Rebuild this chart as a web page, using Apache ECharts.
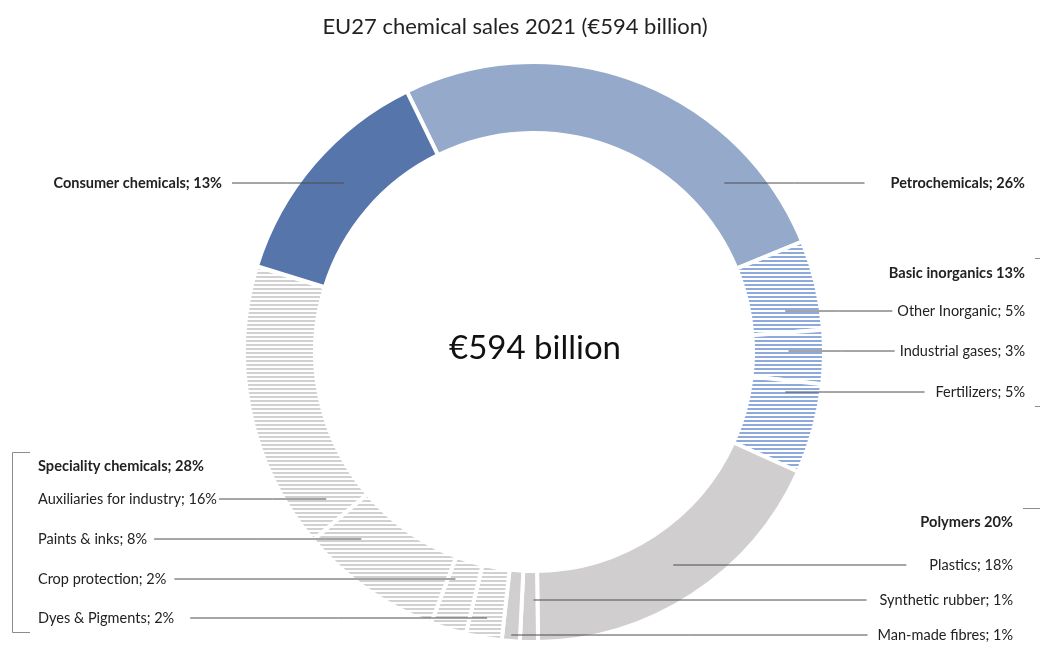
<!DOCTYPE html>
<html>
<head>
<meta charset="utf-8">
<script src="https://cdn.jsdelivr.net/npm/echarts@6/dist/echarts.min.js"></script>
<style>
  html, body { margin: 0; padding: 0; background: #ffffff; }
  #chart { width: 1040px; height: 650px; }
</style>
</head>
<body>
<div id="chart"></div>
<script>
// EU27 chemical sales 2021, share of total by segment (%), clockwise from 11 o'clock
const categories = [
  'Petrochemicals', 'Other Inorganic', 'Industrial gases', 'Fertilizers',
  'Plastics', 'Synthetic rubber', 'Man-made fibres',
  'Dyes & Pigments', 'Crop protection', 'Paints & inks', 'Auxiliaries for industry',
  'Consumer chemicals'
];
const shares = [26, 5, 3, 5, 18, 1, 1, 2, 2, 8, 16, 13];
const sectors = [
  'Petrochemicals', 'Basic inorganics', 'Basic inorganics', 'Basic inorganics',
  'Polymers', 'Polymers', 'Polymers',
  'Speciality chemicals', 'Speciality chemicals', 'Speciality chemicals', 'Speciality chemicals',
  'Consumer chemicals'
];
const titleText = 'EU27 chemical sales 2021 (€594 billion)';
const centerText = '€594 billion';

// ---- layout & style ----
const FONT = 'Lato, "Open Sans", sans-serif';
const TEXT = '#222222';
const LINE = '#4d4d4d';
const CX = 534, CY = 352;

function stripes(color, on, off) {
  const c = document.createElement('canvas');
  c.width = 8; c.height = on + off;
  const g = c.getContext('2d');
  g.fillStyle = '#ffffff'; g.fillRect(0, 0, c.width, c.height);
  g.fillStyle = color; g.fillRect(0, 0, c.width, on);
  return { image: c, repeat: 'repeat' };
}
const sectorFill = {
  'Petrochemicals': '#95a9cb',
  'Basic inorganics': stripes('#8eaadc', 2, 2),
  'Polymers': '#d0cece',
  'Speciality chemicals': stripes('#d1d1d1', 2, 2),
  'Consumer chemicals': '#5675aa'
};
// label anchors: [align, x, y, gap between text and leader line]
const labelSpots = [
  ['right', 1025, 183, 26],
  ['right', 1025, 311, 5],
  ['right', 1025, 351, 5],
  ['right', 1025, 392, 11],
  ['right', 1013, 565, 23],
  ['right', 1013, 600, 13],
  ['right', 1013, 635, 10],
  ['left', 38, 618, 16],
  ['left', 38, 579, 8],
  ['left', 38, 539, 7],
  ['left', 38, 499, 2],
  ['right', 222, 183, 10]
];
const groupSpots = {
  'Basic inorganics': ['right', 1025, 273, ' '],
  'Polymers': ['right', 1013, 522, ' '],
  'Speciality chemicals': ['left', 38, 466, '; ']
};

const chart = echarts.init(document.getElementById('chart'), null, { renderer: 'canvas' });

function sectorTotal(name) {
  return shares.reduce((s, v, i) => s + (sectors[i] === name ? v : 0), 0);
}

// point inside the ring of a slice, on the horizontal through y
function anchorInSlice(lay, y, dir) {
  const rm = (lay.r0 + lay.r) / 2;
  const a0 = Math.min(lay.startAngle, lay.endAngle);
  const a1 = Math.max(lay.startAngle, lay.endAngle);
  const mid = (a0 + a1) / 2;
  const pad = Math.min(0.03, (a1 - a0) / 4);
  const s = (y - lay.cy) / rm;
  let t = Math.abs(s) <= 1 ? (dir > 0 ? Math.asin(s) : Math.PI - Math.asin(s)) : mid;
  while (t < mid - Math.PI) t += 2 * Math.PI;
  while (t > mid + Math.PI) t -= 2 * Math.PI;
  t = Math.min(Math.max(t, a0 + pad), a1 - pad);
  let r = Math.abs(Math.sin(t)) > 0.05 ? (y - lay.cy) / Math.sin(t) : rm;
  r = Math.min(Math.max(r, lay.r0 + 4), lay.r - 4);
  return [lay.cx + r * Math.cos(t), lay.cy + r * Math.sin(t)];
}

const pieData = categories.map((name, i) => ({
  name: name,
  value: shares[i],
  itemStyle: { color: sectorFill[sectors[i]] },
  label: { fontWeight: sectors[i] === name ? 'bold' : 'normal' }
}));

const groupGraphics = Object.keys(groupSpots).map(name => {
  const [align, x, y, sep] = groupSpots[name];
  return {
    type: 'text', x: x, y: y, silent: true,
    style: {
      text: name + sep + sectorTotal(name) + '%',
      align: align, verticalAlign: 'middle',
      font: 'bold 14.6px ' + FONT, fill: TEXT
    }
  };
});

const bracketStyle = { stroke: '#8c8c8c', lineWidth: 1, fill: null };
const brackets = [
  [[30, 452.5], [12.5, 452.5], [12.5, 632.5], [30, 632.5]],
  [[1035, 258.5], [1041.5, 258.5], [1041.5, 406.5], [1035, 406.5]],
  [[1023, 508.5], [1041.5, 508.5], [1041.5, 700]]
].map(pts => ({ type: 'polyline', silent: true, shape: { points: pts }, style: bracketStyle }));

chart.setOption({
  animation: false,
  backgroundColor: '#ffffff',
  graphic: [
    {
      type: 'text', x: 515, y: 27, silent: true,
      style: { text: titleText, align: 'center', verticalAlign: 'middle', font: '22px ' + FONT, fill: TEXT }
    },
    {
      type: 'text', x: CX + 1, y: 348, silent: true,
      style: { text: centerText, align: 'center', verticalAlign: 'middle', font: '33px ' + FONT, fill: '#111111' }
    }
  ].concat(groupGraphics, brackets),
  series: [{
    type: 'pie',
    silent: true,
    center: [CX, CY],
    radius: [219, 290],
    startAngle: 116,
    clockwise: true,
    avoidLabelOverlap: false,
    itemStyle: { borderColor: '#ffffff', borderWidth: 4 },
    label: {
      show: true,
      position: 'outside',
      formatter: p => p.name + '; ' + p.value + '%',
      fontFamily: FONT,
      fontSize: 14.5,
      color: TEXT
    },
    labelLine: { show: true, showAbove: true, smooth: false, lineStyle: { color: LINE, width: 1 } },
    labelLayout: function (p) {
      const [align, x, y, gap] = labelSpots[p.dataIndex];
      const w = p.labelRect.width;
      const lay = chart.getModel().getSeriesByIndex(0).getData().getItemLayout(p.dataIndex);
      let endX;
      if (x < CX) {
        const right = align === 'right' ? x : x + w;
        endX = right + gap;
      } else {
        const left = align === 'left' ? x : x - w;
        endX = left - gap;
      }
      const start = anchorInSlice(lay, y, endX > CX ? 1 : -1);
      return {
        x: x, y: y, align: align, verticalAlign: 'middle',
        labelLinePoints: [start, [(start[0] + endX) / 2, y], [endX, y]]
      };
    },
    data: pieData
  }]
});

// leader lines run over the ring, so lift them above the slices
function raiseLeaderLines() {
  const data = chart.getModel().getSeriesByIndex(0).getData();
  data.eachItemGraphicEl(function (el) {
    const guide = el.getTextGuideLine && el.getTextGuideLine();
    if (guide) {
      guide.z2 = 100;
      guide.markRedraw();
    }
  });
  chart.getZr().refreshImmediately();
}
raiseLeaderLines();
chart.on('finished', function once() {
  chart.off('finished', once);
  raiseLeaderLines();
});
</script>
</body>
</html>
